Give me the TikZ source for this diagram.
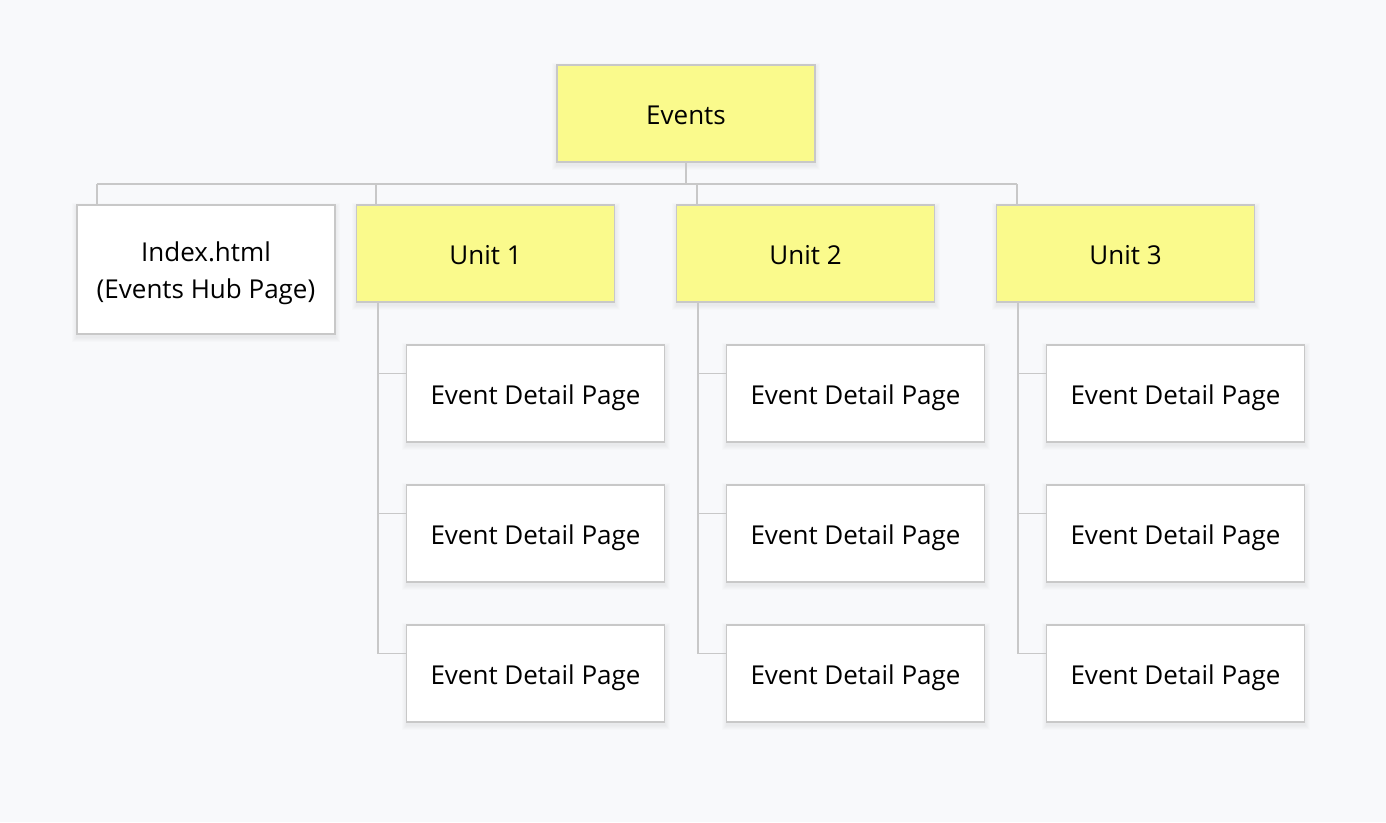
\documentclass[tikz,border=0pt]{standalone}
\usepackage{fontspec}
\setmainfont{Open Sans}
\usetikzlibrary{calc}
\definecolor{bg}{HTML}{F8F9FB}
\definecolor{boxyellow}{HTML}{FAFA8C}
\definecolor{edge}{HTML}{C8C8C8}
\begin{document}
\begin{tikzpicture}[x=1pt,y=-1pt,
  card/.style={draw=edge,line width=1.5pt,minimum width=258pt,minimum height=97pt,
    inner sep=0pt,align=center,font=\fontsize{26}{37}\selectfont,
    text height=21pt,text depth=0pt},
  yellowcard/.style={card,fill=boxyellow},
  whitecard/.style={card,fill=white},
  conn/.style={draw=edge,line width=1.5pt}]
\fill[bg] (0,0) rectangle (1386,822);
\useasboundingbox (0,0) rectangle (1386,822);

\coordinate (busL) at (97,184);
\coordinate (busR) at (1017,184);
\coordinate (busM) at (686,184);
\coordinate (drop2) at (697,184);

% soft shadows
\foreach \x/\y/\h in {686/113.5/97,206/269.5/129,485.5/253.5/97,805.5/253.5/97,1125.5/253.5/97,
  535.5/393.5/97,535.5/533.5/97,535.5/673.5/97,855.5/393.5/97,855.5/533.5/97,855.5/673.5/97,
  1175.5/393.5/97,1175.5/533.5/97,1175.5/673.5/97}{
  \foreach \s in {1,2,3,4,5}{
    \fill[black,opacity=0.012] (\x-129-\s,\y-\h/2+3-\s) rectangle (\x+129+\s,\y+\h/2+3+\s);
  }
}

\node[yellowcard] (ev) at (686,113.5) {Events};
\node[whitecard,minimum height=129pt,text height=58.4pt] (idx) at (206,269.5) {Index.html\\(Events Hub Page)};
\node[yellowcard] (u1) at (485.5,253.5) {Unit 1};
\node[yellowcard] (u2) at (805.5,253.5) {Unit 2};
\node[yellowcard] (u3) at (1125.5,253.5) {Unit 3};

\foreach \u/\x in {1/535.5,2/855.5,3/1175.5}{
  \foreach \r/\y in {1/393.5,2/533.5,3/673.5}{
    \node[whitecard] (d\u\r) at (\x,\y) {Event Detail Page};
  }
}

\draw[conn] (ev.south) -- (ev.south |- busM);
\draw[conn] (busL) -- (busR);
\draw[conn] (busL) -- (busL |- idx.north);
\coordinate (drop1) at ($(u1.north west)+(20,-21)$);
\draw[conn] (drop1) -- (drop1 |- u1.north);
\draw[conn] (drop2) -- (drop2 |- u2.north);
\draw[conn] (busR) -- (busR |- u3.north);

\foreach \u in {1,2,3}{
  \coordinate (v\u) at ($(u\u.south west)+(22,0)$);
  \foreach \r in {1,2,3}{
    \coordinate (b\u\r) at ($(d\u\r.north west)+(0,29)$);
  }
  \draw[conn] (v\u) -- (v\u |- b\u3) -- (b\u3);
  \draw[conn] (v\u |- b\u1) -- (b\u1);
  \draw[conn] (v\u |- b\u2) -- (b\u2);
}
\end{tikzpicture}
\end{document}
